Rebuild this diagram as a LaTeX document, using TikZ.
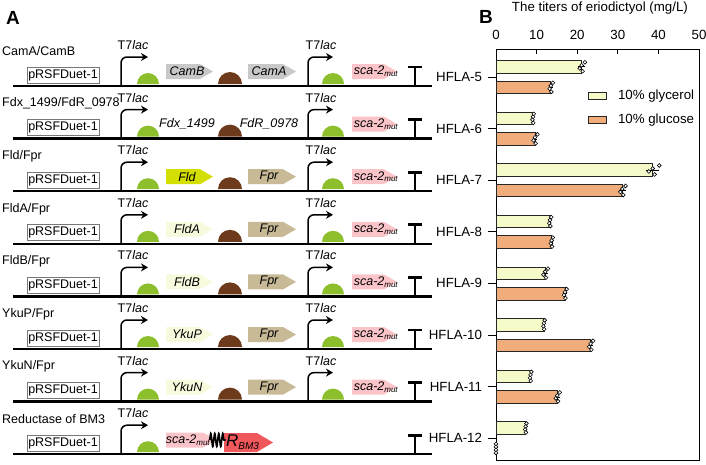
\documentclass[tikz,border=0pt]{standalone}
\usepackage{fontspec}
\setmainfont{Liberation Sans}
\usetikzlibrary{arrows.meta,decorations.pathmorphing}

\begin{document}
\begin{tikzpicture}[x=1pt,y=-1pt,
	txt/.style={font=\fontsize{12.5}{14}\selectfont},
	plasmid/.style={draw=boxgray,line width=0.8pt,minimum width=72pt,minimum height=16pt,inner sep=0pt,txt},
	backbone/.style={line width=2.4pt},
	promoter/.style={line width=1.5pt,rounded corners=6pt,-{Stealth[length=7pt,width=8pt]}},
	terminator/.style={line width=2.8pt},
	genename/.style={inner sep=0pt,font=\fontsize{12.5}{14}\selectfont\itshape},
	chartlabel/.style={inner sep=0pt,font=\fontsize{13.3}{15}\selectfont},
	bar/.style={draw=black!85,line width=0.8pt},
	errdot/.style={draw,fill=white,line width=0.6pt},
	]
	\definecolor{boxgray}{RGB}{120,120,120}
	\definecolor{rbsgreen}{RGB}{141,190,44}
	\definecolor{rbsbrown}{RGB}{110,58,28}
	\definecolor{camgray}{RGB}{200,200,200}
	\definecolor{fldyellow}{RGB}{212,222,0}
	\definecolor{paleyellow}{RGB}{248,250,222}
	\definecolor{fprtan}{RGB}{200,186,150}
	\definecolor{scapink}{RGB}{250,196,200}
	\definecolor{bm3red}{RGB}{240,88,92}
	\definecolor{glycerol}{RGB}{246,250,200}
	\definecolor{glucose}{RGB}{240,172,122}

	\useasboundingbox (0,0) rectangle (706,464);

	% panel A
	\node[font=\fontsize{19}{20}\selectfont\bfseries] (panA) at (13,18) {A};

	\foreach \r in {0,...,7} {
		\pgfmathsetmacro\y{86+52.6*\r}
		\draw[backbone] (13,\y) -- (432,\y);
		\node[plasmid] (pl\r) at (63,\y-11) {pRSFDuet-1};
		\draw[promoter] (121,\y) -- (121,\y-29) -- (148,\y-29);
		\node[txt,inner sep=0pt] (tla\r) at (133,\y-41) {T7\textit{lac}};
		\fill[rbsgreen] (137,\y-2) arc[start angle=180,end angle=360,radius=11] -- cycle;
		\draw[terminator] (415,\y) -- (415,\y-19);
		\draw[terminator] (408,\y-19) -- (422,\y-19);
	}

	% row names
	\node[txt,anchor=west,inner sep=0pt] (n0) at (2,51) {CamA/CamB};
	\node[txt,anchor=west,inner sep=0pt] (n1) at (2,103.6) {Fdx\_1499/FdR\_0978};
	\node[txt,anchor=west,inner sep=0pt] (n2) at (2,156.2) {Fld/Fpr};
	\node[txt,anchor=west,inner sep=0pt] (n3) at (2,208.8) {FldA/Fpr};
	\node[txt,anchor=west,inner sep=0pt] (n4) at (2,261.4) {FldB/Fpr};
	\node[txt,anchor=west,inner sep=0pt] (n5) at (2,314) {YkuP/Fpr};
	\node[txt,anchor=west,inner sep=0pt] (n6) at (2,366.6) {YkuN/Fpr};
	\node[txt,anchor=west,inner sep=0pt] (n7) at (2,419.2) {Reductase of BM3};

	% two-promoter constructs
	\foreach \r/\ga/\ca/\gb/\cb in {0/CamB/camgray/CamA/camgray, 1/Fdx\_1499/white/FdR\_0978/white,
		2/Fld/fldyellow/Fpr/fprtan, 3/FldA/paleyellow/Fpr/fprtan, 4/FldB/paleyellow/Fpr/fprtan,
		5/YkuP/paleyellow/Fpr/fprtan, 6/YkuN/paleyellow/Fpr/fprtan} {
		\pgfmathsetmacro\y{86+52.6*\r}
		\fill[\ca] (166,\y-22) -- (200,\y-22) -- (213,\y-14.5) -- (200,\y-7) -- (166,\y-7) -- cycle;
		\node[genename] (ga\r) at (187,\y-14.5) {\ga};
		\fill[rbsbrown] (218,\y-2) arc[start angle=180,end angle=360,radius=12] -- cycle;
		\fill[\cb] (248,\y-22) -- (283,\y-22) -- (296,\y-14.5) -- (283,\y-7) -- (248,\y-7) -- cycle;
		\node[genename] (gb\r) at (269,\y-14.5) {\gb};
		\draw[promoter] (308,\y) -- (308,\y-29) -- (333,\y-29);
		\node[txt,inner sep=0pt] (tlb\r) at (321,\y-41) {T7\textit{lac}};
		\fill[rbsgreen] (322,\y-2) arc[start angle=180,end angle=360,radius=11] -- cycle;
		\fill[scapink] (352,\y-22) -- (384,\y-22) -- (397,\y-14.5) -- (384,\y-7) -- (352,\y-7) -- cycle;
		\node[genename] (sca\r) at (376,\y-14.5) {sca-2\textsubscript{\fontsize{8}{9}\selectfont mut}};
	}

	% fusion construct
	\fill[scapink] (166,432.5) -- (203,432.5) -- (217,440) -- (203,447.5) -- (166,447.5) -- cycle;
	\node[genename] (sca7) at (188,440) {sca-2\textsubscript{\fontsize{8}{9}\selectfont mut}};
	\fill[bm3red] (224,433) -- (257,433) -- (273,442.5) -- (257,452) -- (224,452) -- cycle;
	\node[genename,anchor=west] (rbm) at (226,442) {\fontsize{17}{18}\selectfont R\textsubscript{\fontsize{10}{11}\selectfont BM3}};
	\draw[line width=1.6pt,decorate,decoration={snake,segment length=4pt,amplitude=6.5pt}] (209.5,440) -- (225.5,440);

	% panel B
	\node[font=\fontsize{19}{20}\selectfont\bfseries] (panB) at (486,17) {B};
	\begin{scope}[xshift=496pt,x=4.06pt]
		\node[chartlabel] (title) at (25.6,8) {The titers of eriodictyol (mg/L)};
		\draw[line width=0.8pt] (0,49) rectangle (50,460);
		\foreach \v in {0,10,...,50} {
			\draw[line width=0.8pt] (\v,49) -- (\v,54);
			\node[chartlabel] (tk\v) at (\v,35) {\v};
		}
		\foreach \k/\g/\gs/\c/\cs in {0/21.1/0.8/13.5/0.5, 1/9.1/0.2/9.6/0.6, 2/38.6/1.6/31.1/0.8,
			3/13.3/0.3/13.7/0.3, 4/12.1/0.7/17.0/0.4, 5/11.8/0.2/23.3/0.6, 6/8.5/0.2/15.1/0.6, 7/7.3/0.2/0/0} {
			\pgfmathsetmacro\yk{77+51.6*\k}
			\pgfmathtruncatemacro\hf{\k+5}
			\draw[line width=0.8pt] (-2,\yk) -- (0,\yk);
			\node[chartlabel,anchor=east] (hf\k) at (-3.4,\yk) {HFLA-\hf};
			\filldraw[bar,fill=glycerol] (0,\yk-16.5) rectangle (\g,\yk-4);
			\filldraw[bar,fill=glucose] (0,\yk+4) rectangle (\c,\yk+16.5);
			% error bars and replicates
			\draw[line width=0.6pt] (\g-\gs,\yk-10.25) -- (\g+\gs,\yk-10.25);
			\draw[line width=0.6pt] (\c-\cs,\yk+10.25) -- (\c+\cs,\yk+10.25);
			\foreach \dx/\dy in {1/-4.5, 0/-1.5, -0.6/1.5, 0.3/4.5} {
				\path[errdot] (\g+\dx*\gs,\yk-10.25+\dy) circle[radius=1.9pt];
				\path[errdot] (\c+\dx*\cs,\yk+10.25+\dy) circle[radius=1.9pt];
			}
		}
		% legend
		\filldraw[bar,fill=glycerol] (22.7,92.5) rectangle (27.3,99.5);
		\node[chartlabel,anchor=west] (lg1) at (30,96) {10\% glycerol};
		\filldraw[bar,fill=glucose] (22.7,116.5) rectangle (27.3,123.5);
		\node[chartlabel,anchor=west] (lg2) at (30,120) {10\% glucose};
	\end{scope}
\end{tikzpicture}
\end{document}
